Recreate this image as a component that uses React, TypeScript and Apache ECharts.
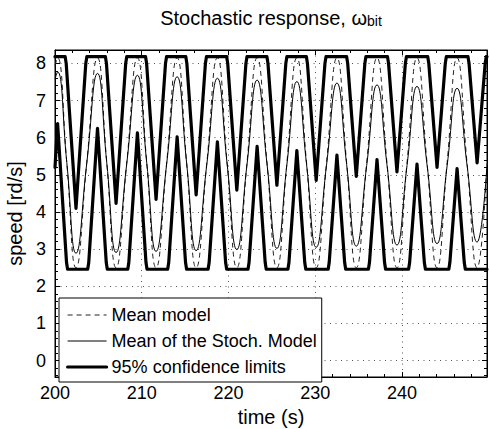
import React, { useEffect, useRef } from "react";
import * as echarts from "echarts";

// ---- data ----
const legendNames = ["Mean model", "Mean of the Stoch. Model", "95% confidence limits"];
const xRange = [200, 249.8];
const yRange = [-0.44, 8.36];

// Mean model (dashed)
const meanModel: [number, number][] = [
  [200, 7.95], [200.3, 8.15], [201.36, 5.32], [202.42, 2.5], [203.66, 5.32],
  [204.9, 8.15], [205.97, 5.32], [207.04, 2.5], [208.27, 5.32],
  [209.5, 8.15], [210.58, 5.32], [211.65, 2.5], [212.87, 5.32],
  [214.08, 8.15], [215.18, 5.32], [216.27, 2.5], [217.5, 5.32],
  [218.72, 8.15], [219.84, 5.32], [220.96, 2.5], [222.13, 5.32],
  [223.3, 8.15], [224.44, 5.32], [225.58, 2.5], [226.73, 5.32],
  [227.88, 8.15], [229.0, 5.32], [230.11, 2.5], [231.3, 5.32],
  [232.5, 8.15], [233.62, 5.32], [234.73, 2.5], [235.93, 5.32],
  [237.12, 8.15], [238.27, 5.32], [239.42, 2.5], [240.58, 5.32],
  [241.73, 8.15], [242.89, 5.32], [244.04, 2.5], [245.2, 5.32],
  [246.35, 8.15], [247.5, 5.32], [248.66, 2.5], [249.8, 5.32],
];

// Mean of the stochastic model (thin solid)
const meanStoch: [number, number][] = [
  [200, 7.58], [200.3, 7.77], [201.36, 5.33], [202.42, 2.89], [203.66, 5.31],
  [204.9, 7.73], [205.97, 5.32], [207.04, 2.91], [208.27, 5.3],
  [209.5, 7.68], [210.58, 5.31], [211.65, 2.94], [212.87, 5.29],
  [214.08, 7.64], [215.18, 5.3], [216.27, 2.96], [217.5, 5.28],
  [218.72, 7.6], [219.84, 5.3], [220.96, 2.99], [222.13, 5.27],
  [223.3, 7.55], [224.44, 5.29], [225.58, 3.02], [226.73, 5.27],
  [227.88, 7.51], [229.0, 5.28], [230.11, 3.05], [231.3, 5.26],
  [232.5, 7.47], [233.62, 5.28], [234.73, 3.08], [235.93, 5.25],
  [237.12, 7.42], [238.27, 5.27], [239.42, 3.11], [240.58, 5.25],
  [241.73, 7.38], [242.89, 5.27], [244.04, 3.15], [245.2, 5.24],
  [246.35, 7.33], [247.5, 5.26], [248.66, 3.19], [249.8, 5.25],
];

// Upper 95% confidence limit (thick)
const upperLimit: [number, number][] = [
  [200, 8.18],
  [201.17, 8.18], [201.29, 8.0], [202.42, 4.1], [203.55, 8.0], [203.67, 8.18],
  [205.81, 8.18], [205.93, 8.0], [207.04, 4.23], [208.15, 8.0], [208.27, 8.18],
  [210.44, 8.18], [210.56, 8.0], [211.65, 4.34], [212.74, 8.0], [212.86, 8.18],
  [215.08, 8.18], [215.2, 8.0], [216.27, 4.46], [217.34, 8.0], [217.46, 8.18],
  [219.79, 8.18], [219.91, 8.0], [220.96, 4.59], [222.01, 8.0], [222.13, 8.18],
  [224.43, 8.18], [224.55, 8.0], [225.58, 4.72], [226.61, 8.0], [226.73, 8.18],
  [228.98, 8.18], [229.1, 8.0], [230.11, 4.85], [231.12, 8.0], [231.24, 8.18],
  [233.62, 8.18], [233.74, 8.0], [234.73, 4.96], [235.72, 8.0], [235.84, 8.18],
  [238.33, 8.18], [238.45, 8.0], [239.42, 5.08], [240.39, 8.0], [240.51, 8.18],
  [242.97, 8.18], [243.09, 8.0], [244.04, 5.2], [244.99, 8.0], [245.11, 8.18],
  [247.61, 8.18], [247.73, 8.0], [248.66, 5.32], [249.59, 8.0], [249.71, 8.18],
  [249.8, 8.18],
];

// Lower 95% confidence limit (thick)
const lowerLimit: [number, number][] = [
  [200, 5.2], [200.3, 6.38], [201.33, 2.64], [201.45, 2.46],
  [203.77, 2.46], [203.89, 2.64], [204.9, 6.25], [205.91, 2.64], [206.03, 2.46],
  [208.39, 2.46], [208.51, 2.64], [209.5, 6.13], [210.49, 2.64], [210.61, 2.46],
  [212.99, 2.46], [213.11, 2.64], [214.08, 6.02], [215.05, 2.64], [215.17, 2.46],
  [217.65, 2.46], [217.77, 2.64], [218.72, 5.89], [219.67, 2.64], [219.79, 2.46],
  [222.25, 2.46], [222.37, 2.64], [223.3, 5.77], [224.23, 2.64], [224.35, 2.46],
  [226.85, 2.46], [226.97, 2.64], [227.88, 5.65], [228.79, 2.64], [228.91, 2.46],
  [231.49, 2.46], [231.61, 2.64], [232.5, 5.53], [233.39, 2.64], [233.51, 2.46],
  [236.13, 2.46], [236.25, 2.64], [237.12, 5.41], [237.99, 2.64], [238.11, 2.46],
  [240.76, 2.46], [240.88, 2.64], [241.73, 5.29], [242.58, 2.64], [242.7, 2.46],
  [245.4, 2.46], [245.52, 2.64], [246.35, 5.17], [247.18, 2.64], [247.3, 2.46],
  [249.8, 2.46],
];

const FONT = "'Liberation Sans', Arial, Helvetica, sans-serif";

export default function App() {
  const ref = useRef<HTMLDivElement>(null);

  useEffect(() => {
    document.body.style.margin = "0";
    if (!ref.current) return;
    const chart = echarts.init(ref.current, undefined, { renderer: "svg" });

    const xLabelFmt = (v: number) => (Math.abs(v % 10) < 1e-6 ? String(Math.round(v)) : "");
    const yLabelFmt = (v: number) => (Math.abs(v - Math.round(v)) < 1e-6 ? String(Math.round(v)) : "");

    const tickCommon = {
      axisLine: { show: true, onZero: false, lineStyle: { color: "#000", width: 1 } },
      axisTick: { show: true, inside: true, length: 5, lineStyle: { color: "#000", width: 1 } },
      minorTick: { show: true, splitNumber: 5, length: 3, lineStyle: { color: "#000", width: 1 } },
    };

    const option: any = {
      animation: false,
      backgroundColor: "#fff",
      textStyle: { fontFamily: FONT },
      grid: { left: 55, right: 3, top: 50, bottom: 52, show: true, borderColor: "#000", borderWidth: 1, backgroundColor: "#fff", containLabel: false, outerBoundsMode: "none" },
      graphic: [
        {
          type: "text",
          x: 271,
          y: 18,
          style: {
            text: "{m|Stochastic response, }{w|ω}{s|bit}",
            align: "center",
            verticalAlign: "middle",
            rich: {
              m: { fontSize: 20, fontFamily: FONT, fill: "#000", lineHeight: 20 },
              w: { fontSize: 20, fontFamily: FONT, fill: "#000", lineHeight: 20 },
              s: { fontSize: 14, fontFamily: FONT, fill: "#000", lineHeight: 6, verticalAlign: "bottom" },
            },
          },
        },
      ],
      legend: {
        data: legendNames,
        orient: "vertical",
        left: 59,
        top: 298,
        itemWidth: 39,
        itemHeight: 14,
        itemGap: 8,
        padding: [8, 5, 6, 7],
        borderColor: "#000",
        borderWidth: 1,
        borderRadius: 0,
        backgroundColor: "#fff",
        selectedMode: false,
        itemStyle: { opacity: 0 },
        lineStyle: { width: "inherit", type: "inherit", color: "inherit" },
        textStyle: { fontSize: 18, fontFamily: FONT, color: "#000", lineHeight: 14 },
      },
      xAxis: [
        {
          type: "value",
          min: xRange[0],
          max: xRange[1],
          interval: 10,
          position: "bottom",
          ...tickCommon,
          axisLabel: { show: true, formatter: xLabelFmt, fontSize: 18, color: "#000", fontFamily: FONT, margin: 7, showMaxLabel: false },
          splitLine: { show: true, lineStyle: { color: "#555", width: 1, type: [1, 4.5] } },
          name: "time (s)",
          nameLocation: "middle",
          nameGap: 23,
          nameTextStyle: { fontSize: 20, color: "#000", fontFamily: FONT, verticalAlign: "top" },
        },
        {
          type: "value",
          min: xRange[0],
          max: xRange[1],
          interval: 10,
          position: "top",
          ...tickCommon,
          axisLabel: { show: false },
          splitLine: { show: false },
        },
      ],
      yAxis: [
        {
          type: "value",
          min: yRange[0],
          max: yRange[1],
          splitNumber: 9,
          position: "left",
          ...tickCommon,
          axisLabel: { show: true, formatter: yLabelFmt, fontSize: 18, color: "#000", fontFamily: FONT, margin: 9 },
          splitLine: { show: true, lineStyle: { color: "#555", width: 1, type: [1, 4.5] } },
          name: "speed [rd/s]",
          nameLocation: "middle",
          nameGap: 26,
          nameTextStyle: { fontSize: 20, color: "#000", fontFamily: FONT },
        },
        {
          type: "value",
          min: yRange[0],
          max: yRange[1],
          splitNumber: 9,
          position: "right",
          ...tickCommon,
          axisLabel: { show: false },
          splitLine: { show: false },
        },
      ],
      series: [
        {
          name: legendNames[0],
          type: "line",
          data: meanModel,
          symbol: "none",
          smooth: 0.5,
          clip: true,
          lineStyle: { color: "#222", width: 1, type: [5, 4] },
          itemStyle: { color: "#222" },
          z: 2,
        },
        {
          name: legendNames[1],
          type: "line",
          data: meanStoch,
          symbol: "none",
          smooth: 0.5,
          clip: true,
          lineStyle: { color: "#000", width: 1 },
          itemStyle: { color: "#000" },
          z: 3,
        },
        {
          name: legendNames[2],
          type: "line",
          data: upperLimit,
          symbol: "none",
          clip: true,
          lineStyle: { color: "#000", width: 3.2, join: "round", cap: "round" },
          itemStyle: { color: "#000" },
          z: 4,
        },
        {
          name: legendNames[2],
          type: "line",
          data: lowerLimit,
          symbol: "none",
          clip: true,
          lineStyle: { color: "#000", width: 3.2, join: "round", cap: "round" },
          itemStyle: { color: "#000" },
          z: 4,
        },
      ],
    };

    chart.setOption(option);
    return () => chart.dispose();
  }, []);

  return (
    <div
      ref={ref}
      style={{ position: "absolute", left: 0, top: 0, width: 490, height: 429 }}
    />
  );
}
